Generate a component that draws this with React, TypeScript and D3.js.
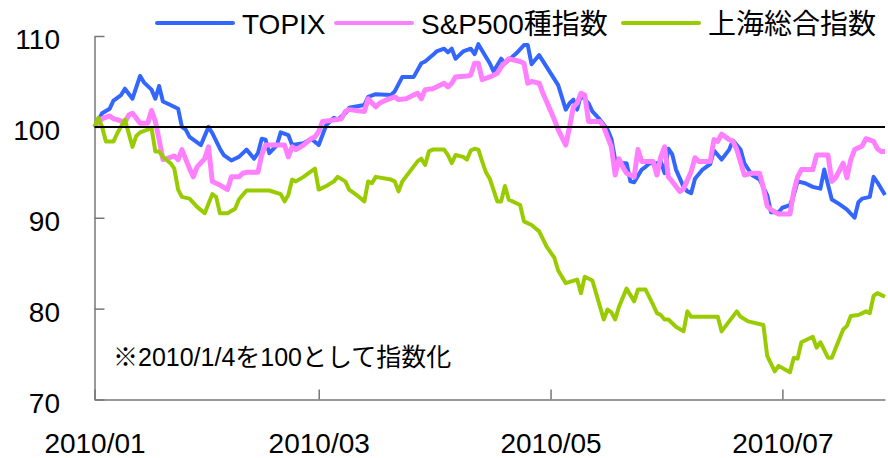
import { useEffect, useRef } from "react";
import * as d3 from "d3";

// sample dates (2010, M/D) and index values
const topixDates = ["1/1","1/3","1/5","1/6","1/8","1/9","1/11","1/13","1/14","1/16","1/17","1/18","1/19","1/21","1/23","1/24","1/25","1/26","1/28","1/29","1/31","2/1","2/3","2/4","2/6","2/8","2/10","2/11","2/12","2/13","2/14","2/15","2/16","2/18","2/19","2/21","2/22","2/25","2/27","3/1","3/3","3/5","3/6","3/8","3/9","3/13","3/14","3/16","3/20","3/21","3/23","3/26","3/28","3/29","3/31","4/1","4/3","4/4","4/5","4/6","4/7","4/8","4/10","4/11","4/12","4/14","4/15","4/16","4/18","4/19","4/22","4/24","4/25","4/26","4/28","5/3","5/5","5/6","5/7","5/8","5/9","5/11","5/12","5/14","5/16","5/17","5/18","5/20","5/21","5/22","5/23","5/25","5/26","5/27","5/29","5/30","5/31","6/1","6/2","6/3","6/5","6/6","6/7","6/8","6/10","6/12","6/13","6/15","6/17","6/18","6/20","6/21","6/23","6/25","6/27","6/28","6/30","7/1","7/3","7/4","7/5","7/7","7/9","7/11","7/12","7/14","7/16","7/18","7/20","7/21","7/22","7/24","7/25","7/26","7/28"];
const topixValues = [100.0,101.5,102.0,102.9,103.5,104.2,103.1,105.6,104.9,104.1,103.1,104.5,102.8,102.4,102.0,100.0,99.7,98.9,98.3,98.0,100.0,99.3,97.6,96.9,96.3,96.7,97.5,97.0,96.5,97.1,98.7,98.6,97.1,98.0,99.4,99.1,98.0,98.2,98.7,98.0,100.2,101.0,100.8,101.5,102.1,102.4,103.3,103.6,103.5,103.9,105.5,105.5,107.0,107.2,107.9,108.3,108.6,108.2,108.6,107.5,107.9,108.3,108.6,108.0,109.1,107.7,107.0,106.1,107.5,107.0,108.1,109.0,109.0,106.9,107.9,104.6,101.9,102.6,103.0,101.9,103.5,102.6,101.7,100.8,99.7,98.7,96.4,96.0,96.0,94.0,93.9,95.3,95.6,96.0,96.0,96.2,94.9,97.6,97.0,95.3,93.4,92.9,92.7,94.3,95.3,95.9,97.4,96.4,97.5,98.5,97.5,96.0,94.7,94.2,92.5,90.6,90.6,91.1,91.4,92.5,94.0,93.8,93.4,93.2,95.3,92.0,91.5,90.9,90.0,91.7,92.1,92.3,94.5,93.9,92.5];

const spDates = ["1/1","1/3","1/5","1/6","1/7","1/9","1/10","1/11","1/13","1/15","1/16","1/17","1/18","1/19","1/20","1/22","1/23","1/24","1/26","1/27","1/28","1/30","1/31","2/1","2/3","2/5","2/6","2/8","2/9","2/10","2/13","2/14","2/15","2/20","2/21","2/22","2/23","2/25","2/27","2/28","3/1","3/2","3/4","3/7","3/8","3/9","3/13","3/14","3/16","3/17","3/19","3/21","3/22","3/24","3/26","3/27","3/28","3/29","3/31","4/2","4/3","4/4","4/5","4/6","4/9","4/10","4/11","4/12","4/13","4/15","4/17","4/18","4/20","4/23","4/24","4/25","4/26","4/28","4/29","5/2","5/3","5/5","5/6","5/7","5/8","5/9","5/10","5/11","5/14","5/15","5/16","5/17","5/18","5/19","5/20","5/21","5/22","5/23","5/24","5/25","5/28","5/29","5/30","5/31","6/1","6/2","6/4","6/5","6/7","6/8","6/9","6/12","6/13","6/14","6/15","6/17","6/18","6/19","6/21","6/23","6/25","6/26","6/27","6/28","6/30","7/3","7/4","7/5","7/6","7/9","7/10","7/13","7/14","7/15","7/17","7/18","7/19","7/20","7/22","7/23","7/25","7/26","7/27","7/28"];
const spValues = [100.0,100.9,101.2,100.9,100.8,100.5,101.3,101.5,100.4,100.4,101.8,100.6,98.6,96.4,96.5,96.8,96.4,97.5,95.4,94.5,95.6,96.5,97.8,94.0,93.6,93.1,94.5,94.5,94.9,95.0,95.0,96.9,98.0,98.0,96.7,97.8,97.5,98.0,98.7,98.9,99.5,100.6,100.7,100.9,101.7,101.9,101.7,103.1,102.2,102.6,103.0,103.3,103.0,103.1,103.5,103.7,103.1,104.1,104.2,104.6,104.8,104.4,104.8,105.5,105.6,105.7,107.0,107.0,105.2,105.5,105.9,106.6,107.5,107.2,107.0,104.8,105.0,104.8,103.7,100.8,99.7,98.0,100.0,102.2,102.6,103.7,103.5,100.6,100.6,100.0,98.9,97.8,94.7,96.5,95.6,94.9,94.7,94.5,97.5,96.2,96.2,94.7,96.7,97.8,94.5,94.0,92.9,93.2,95.1,96.6,96.2,96.2,98.6,98.4,99.2,98.6,98.4,97.5,94.7,94.9,94.9,93.3,91.3,90.9,90.4,90.4,92.9,94.5,95.3,95.3,96.9,96.9,94.0,94.4,96.0,94.4,96.4,97.5,97.9,98.7,98.4,97.6,97.3,97.3];

const shDates = ["1/1","1/2","1/3","1/4","1/6","1/7","1/9","1/11","1/12","1/13","1/15","1/16","1/17","1/18","1/19","1/21","1/22","1/23","1/24","1/26","1/28","1/30","2/1","2/2","2/3","2/5","2/7","2/8","2/10","2/16","2/19","2/20","2/21","2/22","2/23","2/25","2/27","2/28","3/1","3/3","3/5","3/6","3/8","3/9","3/11","3/13","3/14","3/15","3/16","3/20","3/21","3/22","3/23","3/25","3/27","3/28","3/29","3/30","3/31","4/3","4/4","4/5","4/6","4/8","4/9","4/10","4/11","4/12","4/13","4/14","4/15","4/17","4/18","4/19","4/20","4/23","4/24","4/26","4/28","4/30","5/2","5/3","5/5","5/8","5/9","5/10","5/12","5/15","5/16","5/17","5/18","5/19","5/21","5/23","5/24","5/26","5/28","5/29","5/30","5/31","6/1","6/3","6/5","6/6","6/7","6/14","6/15","6/17","6/19","6/20","6/22","6/26","6/27","6/29","6/30","7/3","7/4","7/5","7/6","7/9","7/10","7/11","7/13","7/14","7/17","7/18","7/19","7/21","7/23","7/24","7/25","7/26","7/28"];
const shValues = [100.0,101.0,100.0,98.4,98.4,99.3,100.8,97.8,99.0,99.4,99.7,99.9,97.3,97.3,96.7,96.0,95.4,93.1,92.3,92.1,91.2,90.5,92.6,92.3,90.5,90.5,91.0,92.0,93.0,93.0,92.6,91.8,92.5,94.2,94.0,94.5,95.1,95.4,93.1,93.5,94.0,94.5,94.0,93.1,92.5,91.8,94.0,93.8,94.5,94.2,94.0,92.9,94.0,95.1,96.2,96.5,95.8,97.3,97.5,97.5,96.9,96.0,96.9,96.7,96.4,97.4,97.6,97.5,96.2,95.0,94.3,91.8,91.8,93.5,92.0,91.4,89.6,89.2,88.5,86.8,85.6,84.2,82.8,83.2,81.7,83.5,83.1,78.8,79.9,79.6,78.8,80.2,82.2,80.8,82.1,82.1,80.4,79.5,79.3,78.8,78.8,78.0,77.5,79.7,79.1,79.1,77.5,78.6,79.7,79.1,78.6,78.2,74.8,73.1,73.7,73.0,74.6,74.5,76.3,76.9,75.7,76.3,74.6,74.6,77.7,78.1,79.2,79.3,79.7,79.5,81.4,81.7,81.3];

const seriesNames = ["TOPIX", "S&P500種指数", "上海総合指数"];
const seriesColors = ["#3366ff", "#ff80ff", "#99cc00"];
const yTicks = [70, 80, 90, 100, 110];
const xTickDates = ["1/1", "3/1", "5/1", "7/1"];
const note = "※2010/1/4を100として指数化";

const W = 888;
const H = 458;
const FONT = "'Liberation Sans', 'Noto Sans CJK JP', sans-serif";

const parse = (s: string) => d3.timeParse("%Y/%m/%d")("2010/" + s) as Date;

const App = () => {
    const ref = useRef<SVGSVGElement>(null);

    useEffect(() => {
        const svg = d3.select(ref.current);
        svg.selectAll("*").remove();

        const x = d3.scaleTime()
            .domain([parse("1/1"), parse("7/28")])
            .range([94.5, 885]);
        const y = d3.scaleLinear().domain([70, 110]).range([399.5, 36]);

        // axes
        const yAxis = d3.axisLeft(y)
            .tickValues(yTicks)
            .tickSize(-10)
            .tickSizeOuter(0)
            .tickPadding(34.5)
            .tickFormat(d3.format("d"));
        svg.append("g")
            .attr("transform", `translate(${x.range()[0]},0)`)
            .call(yAxis)
            .call(g => g.selectAll("path,line").attr("stroke", "#777").attr("stroke-width", 1.5))
            .call(g => g.selectAll("text")
                .attr("dy", "0.45em")
                .attr("fill", "#000")
                .style("font-family", FONT)
                .style("font-size", "28px"));

        const xAxis = d3.axisBottom(x)
            .tickValues(xTickDates.map(parse))
            .tickSize(-10)
            .tickSizeOuter(0)
            .tickPadding(33.5)
            .tickFormat(d3.timeFormat("%Y/%m") as any);
        svg.append("g")
            .attr("transform", `translate(0,${y(70)})`)
            .call(xAxis)
            .call(g => g.selectAll("path,line").attr("stroke", "#777").attr("stroke-width", 1.5))
            .call(g => g.selectAll("text")
                .attr("fill", "#000")
                .style("font-family", FONT)
                .style("font-size", "28px"));

        // series lines
        const series = [
            { dates: topixDates, values: topixValues, width: 4 },
            { dates: spDates, values: spValues, width: 5 },
            { dates: shDates, values: shValues, width: 4 },
        ];
        const line = d3.line<[Date, number]>()
            .x(d => x(d[0]))
            .y(d => y(d[1]));

        series.forEach((s, i) => {
            const pts: [Date, number][] = s.dates.map((d, j) => [parse(d), s.values[j]]);
            svg.append("path")
                .datum(pts)
                .attr("d", line)
                .attr("fill", "none")
                .attr("stroke", seriesColors[i])
                .attr("stroke-width", s.width)
                .attr("stroke-linejoin", "round");
        });

        // base line at 100
        svg.append("line")
            .attr("x1", x.range()[0])
            .attr("x2", x.range()[1])
            .attr("y1", y(100))
            .attr("y2", y(100))
            .attr("stroke", "#000")
            .attr("stroke-width", 2);

        // legend
        const legendX = [157, 336, 623];
        const legend = svg.append("g");
        seriesNames.forEach((name, i) => {
            legend.append("line")
                .attr("x1", legendX[i])
                .attr("x2", legendX[i] + 76)
                .attr("y1", 23)
                .attr("y2", 23)
                .attr("stroke", seriesColors[i])
                .attr("stroke-width", 4)
                .attr("stroke-linecap", "round");
            legend.append("text")
                .attr("x", legendX[i] + 85)
                .attr("y", 34)
                .style("font-family", FONT)
                .style("font-size", "28px")
                .text(name);
        });

        // note
        svg.append("text")
            .attr("x", 113)
            .attr("y", 366)
            .style("font-family", FONT)
            .style("font-size", "25px")
            .text(note);
    }, []);

    return (
        <svg
            ref={ref}
            width={W}
            height={H}
            style={{ position: "absolute", left: 0, top: 0, background: "#fff" }}
        />
    );
};

export default App;
